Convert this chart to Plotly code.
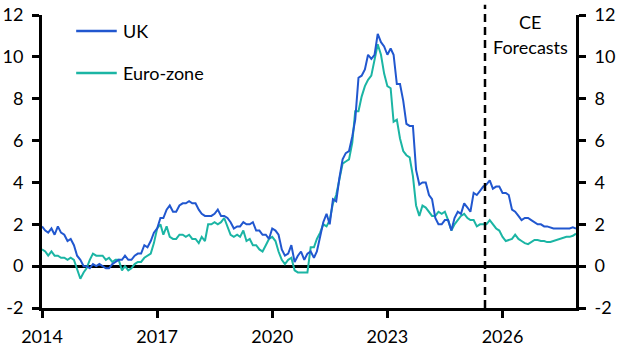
import pandas as pd
import plotly.graph_objects as go

# Monthly data, Jan 2014 - Dec 2027 (forecasts from Aug 2025)
uk = [
    1.9, 1.7, 1.6, 1.8, 1.5, 1.9, 1.6, 1.5, 1.2, 1.3, 1.0, 0.5,      # 2014
    0.3, 0.0, 0.0, -0.1, 0.1, 0.0, 0.1, 0.0, -0.1, -0.1, 0.1, 0.2,   # 2015
    0.3, 0.3, 0.5, 0.3, 0.3, 0.5, 0.6, 0.6, 1.0, 0.9, 1.2, 1.6,      # 2016
    1.8, 2.3, 2.3, 2.7, 2.9, 2.6, 2.6, 2.9, 3.0, 3.0, 3.1, 3.0,      # 2017
    3.0, 2.7, 2.5, 2.4, 2.4, 2.4, 2.5, 2.7, 2.4, 2.4, 2.3, 2.1,      # 2018
    1.8, 1.9, 1.9, 2.1, 2.0, 2.0, 2.1, 1.7, 1.7, 1.5, 1.5, 1.3,      # 2019
    1.8, 1.7, 1.5, 0.8, 0.5, 0.6, 1.0, 0.2, 0.5, 0.7, 0.3, 0.6,      # 2020
    0.7, 0.4, 0.7, 1.5, 2.1, 2.5, 2.0, 3.2, 3.1, 4.2, 5.1, 5.4,      # 2021
    5.5, 6.2, 7.0, 9.0, 9.1, 9.4, 10.1, 9.9, 10.1, 11.1, 10.7, 10.5, # 2022
    10.1, 10.4, 10.1, 8.7, 8.7, 7.9, 6.8, 6.7, 6.7, 4.6, 3.9, 4.0,   # 2023
    4.0, 3.4, 3.2, 2.3, 2.0, 2.0, 2.2, 2.2, 1.7, 2.3, 2.6, 2.5,      # 2024
    3.0, 2.8, 2.6, 3.5, 3.4, 3.6, 3.8, 3.9, 4.1, 3.7, 3.8, 3.8,      # 2025
    3.5, 3.5, 3.4, 2.7, 2.6, 2.4, 2.2, 2.3, 2.3, 2.2, 2.1, 2.0,      # 2026
    2.0, 1.9, 1.9, 1.85, 1.8, 1.8, 1.8, 1.8, 1.8, 1.8, 1.85, 1.8,    # 2027
]
euro_zone = [
    0.8, 0.7, 0.5, 0.7, 0.5, 0.5, 0.4, 0.4, 0.3, 0.4, 0.3, -0.2,     # 2014
    -0.6, -0.3, -0.1, 0.3, 0.6, 0.5, 0.5, 0.5, 0.3, 0.4, 0.2, 0.3,   # 2015
    0.3, -0.2, 0.0, -0.2, -0.1, 0.1, 0.2, 0.2, 0.4, 0.5, 0.6, 1.1,   # 2016
    1.8, 2.0, 1.5, 1.9, 1.4, 1.3, 1.3, 1.5, 1.5, 1.4, 1.5, 1.3,      # 2017
    1.3, 1.1, 1.4, 1.2, 2.0, 2.0, 2.1, 2.0, 2.1, 2.3, 1.9, 1.5,      # 2018
    1.4, 1.5, 1.4, 1.7, 1.2, 1.3, 1.0, 1.0, 0.8, 0.7, 1.0, 1.3,      # 2019
    1.4, 1.2, 0.7, 0.3, 0.1, 0.3, 0.4, -0.2, -0.3, -0.3, -0.3, -0.3, # 2020
    0.9, 0.9, 1.3, 1.6, 2.0, 1.9, 2.2, 3.0, 3.4, 4.1, 4.9, 5.0,      # 2021
    5.1, 5.9, 7.4, 7.4, 8.1, 8.6, 8.9, 9.1, 9.9, 10.6, 10.1, 9.2,    # 2022
    8.6, 8.5, 6.9, 7.0, 6.1, 5.5, 5.3, 5.2, 4.3, 2.9, 2.4, 2.9,      # 2023
    2.8, 2.6, 2.4, 2.4, 2.6, 2.5, 2.6, 2.2, 1.7, 2.0, 2.2, 2.4,      # 2024
    2.5, 2.3, 2.2, 2.2, 1.9, 2.0, 2.0, 2.0, 2.2, 2.0, 1.8, 1.7,      # 2025
    1.4, 1.2, 1.25, 1.3, 1.5, 1.3, 1.2, 1.1, 1.05, 1.15, 1.25, 1.25, # 2026
    1.2, 1.2, 1.15, 1.15, 1.2, 1.25, 1.3, 1.35, 1.4, 1.4, 1.45, 1.55,# 2027
]
dates = pd.date_range("2014-01-01", periods=len(uk), freq="MS")

x_tick_vals = ["2014-01-01", "2017-01-01", "2020-01-01", "2023-01-01", "2026-01-01"]
x_tick_text = ["2014", "2017", "2020", "2023", "2026"]
y_tick_vals = [-2, 0, 2, 4, 6, 8, 10, 12]
y_tick_text = ["-2", "0", "2", "4", "6", "8", "10", "12"]
forecast_start = "2025-07-18"

UK_COL = "#2157cf"
EZ_COL = "#1bb5a4"
FONT = "Lato"
FS = 18

fig = go.Figure()
fig.add_trace(go.Scatter(x=dates, y=euro_zone, mode="lines", name="Euro-zone",
                         line=dict(color=EZ_COL, width=2), showlegend=False))
fig.add_trace(go.Scatter(x=dates, y=uk, mode="lines", name="UK",
                         line=dict(color=UK_COL, width=2), showlegend=False))
# invisible trace to activate right axis
fig.add_trace(go.Scatter(x=[dates[0]], y=[None], yaxis="y2", showlegend=False,
                         hoverinfo="skip"))

axis_common = dict(range=[-2, 12], tickvals=y_tick_vals, ticktext=y_tick_text,
                   showgrid=False, showline=True, linecolor="black", linewidth=3,
                   ticks="outside", ticklen=7, tickwidth=3, tickcolor="black",
                   automargin=False, ticklabelstandoff=5,
                   tickfont=dict(family=FONT, size=FS, color="black"))

fig.update_layout(
    template="none",
    width=627, height=352,
    margin=dict(l=42, r=51, t=15, b=44, autoexpand=False),
    paper_bgcolor="white", plot_bgcolor="white",
    font=dict(family=FONT, size=FS, color="black"),
    xaxis=dict(type="date", range=["2014-01-01", "2027-12-01"],
               tickvals=x_tick_vals, ticktext=x_tick_text,
               showgrid=False, showline=True, linecolor="black", linewidth=3,
               ticks="outside", ticklen=7, tickwidth=3, tickcolor="black",
               zeroline=False, automargin=False, ticklabelstandoff=3,
               tickfont=dict(family=FONT, size=FS, color="black")),
    yaxis=dict(**axis_common, side="left", zeroline=True, zerolinecolor="black",
               zerolinewidth=3),
    yaxis2=dict(**axis_common, side="right", overlaying="y", zeroline=False),
    showlegend=False,
)

# Forecast divider
fig.add_shape(type="line", xref="x", yref="paper", x0=forecast_start, x1=forecast_start,
              y0=0, y1=1.035, line=dict(color="black", width=2.5, dash="8px,5px"))

# Manual legend
for yp, col, label in [(0.945, UK_COL, "UK"), (0.802, EZ_COL, "Euro-zone")]:
    fig.add_shape(type="line", xref="paper", yref="paper", x0=0.064, x1=0.140,
                  y0=yp, y1=yp, line=dict(color=col, width=2.5))
    fig.add_annotation(xref="paper", yref="paper", x=0.148, y=yp, text=label,
                       showarrow=False, xanchor="left", yanchor="middle",
                       font=dict(family=FONT, size=FS, color="black"))

fig.add_annotation(xref="paper", yref="paper", x=0.914, y=0.976, text="CE",
                   showarrow=False, xanchor="center", yanchor="middle",
                   font=dict(family=FONT, size=FS, color="black"))
fig.add_annotation(xref="paper", yref="paper", x=0.914, y=0.89, text="Forecasts",
                   showarrow=False, xanchor="center", yanchor="middle",
                   font=dict(family=FONT, size=FS, color="black"))

fig.write_html("out.html")
